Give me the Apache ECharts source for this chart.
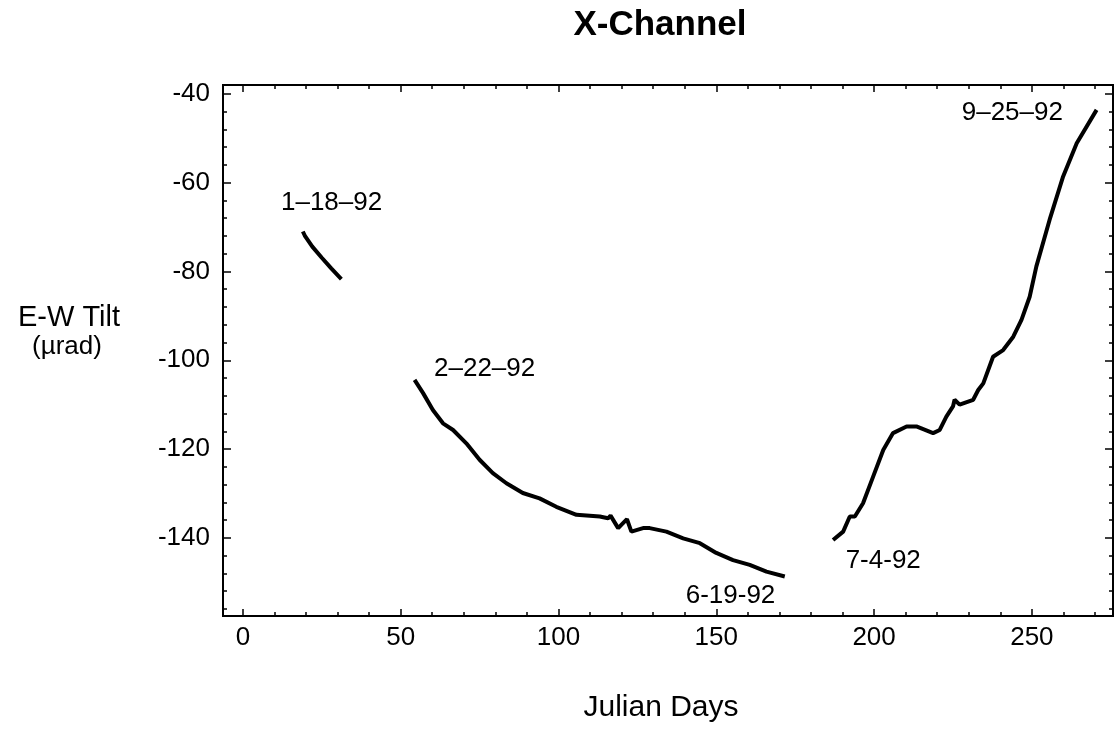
<!DOCTYPE html>
<html><head><meta charset="utf-8">
<script src="https://cdn.jsdelivr.net/npm/echarts@6/dist/echarts.min.js"></script>
<style>html,body{margin:0;padding:0;background:#fff}#c{width:1117px;height:731px}</style>
</head><body><div id="c"></div>
<script>
// ---- data (Julian day, E-W tilt in µrad) ----
const seg1 = [[19.0,-71.0],[19.6,-71.9],[22.0,-74.4],[25.0,-76.9],[28.0,-79.3],[31.2,-81.7]];
const seg2 = [[54.4,-104.4],[57.1,-107.4],[60.2,-111.2],[63.4,-114.2],[66.6,-115.7],[70.8,-118.7],
  [75.0,-122.4],[79.2,-125.4],[83.5,-127.7],[88.7,-129.9],[94.0,-131.1],[99.3,-133.0],[105.7,-134.8],
  [113.1,-135.2],[115.7,-135.6],[116.5,-135.0],[118.9,-137.8],[121.7,-135.8],[123.1,-138.6],
  [126.8,-137.8],[128.9,-137.8],[134.2,-138.6],[139.5,-140.1],[144.8,-141.2],[150.0,-143.4],
  [155.3,-145.0],[160.6,-146.1],[165.9,-147.6],[171.7,-148.7]];
const seg3 = [[187.0,-140.5],[190.2,-138.6],[192.3,-135.2],[193.9,-135.2],[196.5,-132.2],[199.7,-126.2],
  [202.9,-120.2],[206.0,-116.4],[210.3,-114.9],[213.4,-114.9],[218.7,-116.4],[220.8,-115.7],
  [222.9,-112.7],[225.0,-110.4],[225.5,-108.9],[227.1,-110.0],[231.4,-108.9],[233.0,-106.7],
  [234.6,-105.2],[237.7,-99.2],[240.9,-97.7],[244.1,-94.7],[246.7,-90.9],[249.3,-85.7],
  [251.4,-78.9],[255.6,-68.4],[259.9,-58.6],[264.2,-51.1],[270.5,-43.6]];
const annText = ['1\u201318\u201392','2\u201322\u201392','6-19-92','7-4-92','9\u201325\u201392'];
const annX = [28.1, 76.6, 154.5, 202.9, 243.8];
const annY = [-64.5, -101.9, -153.1, -145.2, -44.2];
const xMajorTicks = [0,50,100,150,200,250];
const xMinorTicks = [0,10,20,30,40,50,60,70,80,90,100,110,120,130,140,150,160,170,180,190,200,210,220,230,240,250,260,270];
const yMajorTicks = [-140,-120,-100,-80,-60,-40];
const yMinorTicks = [-156,-152,-148,-144,-140,-136,-132,-128,-124,-120,-116,-112,-108,-104,-100,-96,-92,-88,-84,-80,-76,-72,-68,-64,-60,-56,-52,-48,-44,-40];
const X_MIN = -6.3, X_MAX = 275.7, Y_MIN = -157.6, Y_MAX = -38.0;

const FONT = 'Liberation Sans';
function xAx(pos, ticks, len, withLabels) {
  return {type:'value', position:pos, min:X_MIN, max:X_MAX, splitLine:{show:false},
    axisLine:{show:false, onZero:false},
    axisTick:{show:true, inside:true, length:len, customValues:ticks, lineStyle:{color:'#000', width:1.5}},
    axisLabel: withLabels ? {show:true, customValues:xMajorTicks, margin:9, color:'#000', fontFamily:FONT, fontSize:26} : {show:false}};
}
function yAx(pos, ticks, len, withLabels) {
  return {type:'value', position:pos, min:Y_MIN, max:Y_MAX, splitLine:{show:false},
    axisLine:{show:false, onZero:false},
    axisTick:{show:true, inside:true, length:len, customValues:ticks, lineStyle:{color:'#000', width:1.5}},
    axisLabel: withLabels ? {show:true, customValues:yMajorTicks, margin:13, color:'#000', fontFamily:FONT, fontSize:26} : {show:false}};
}
const lineSeries = (d) => ({type:'line', data:d, xAxisIndex:0, yAxisIndex:0, showSymbol:false, symbol:'none',
  lineStyle:{color:'#000', width:4}, animation:false, z:3});

const chart = echarts.init(document.getElementById('c'), null, {renderer:'canvas'});
chart.setOption({
  animation:false,
  backgroundColor:'#fff',
  grid:{left:223, right:4, top:85, bottom:115, show:true, borderColor:'#000', borderWidth:2, backgroundColor:'transparent'},
  xAxis:[xAx('bottom', xMajorTicks, 7, true), xAx('bottom', xMinorTicks, 4, false), xAx('top', xMajorTicks, 7, false), xAx('top', xMinorTicks, 4, false)],
  yAxis:[yAx('left', yMajorTicks, 8, true), yAx('left', yMinorTicks, 4, false), yAx('right', yMajorTicks, 8, false), yAx('right', yMinorTicks, 4, false)],
  series:[lineSeries(seg1), lineSeries(seg2), lineSeries(seg3),
    {type:'scatter', xAxisIndex:0, yAxisIndex:0, symbolSize:0, silent:true, itemStyle:{opacity:1},
     data: annText.map((t,i)=>({name:t, value:[annX[i], annY[i]]})),
     label:{show:true, position:'inside', formatter:p=>p.name, color:'#000', opacity:1, fontFamily:FONT, fontSize:26}}],
  graphic:[
    {type:'text', x:660, y:25, style:{text:'X-Channel', font:'bold 35px "Liberation Sans"', fill:'#000', align:'center', verticalAlign:'middle'}},
    {type:'text', x:661, y:708, style:{text:'Julian Days', font:'30px "Liberation Sans"', fill:'#000', align:'center', verticalAlign:'middle'}},
    {type:'text', x:69, y:318, style:{text:'E-W Tilt', font:'29px "Liberation Sans"', fill:'#000', align:'center', verticalAlign:'middle'}},
    {type:'text', x:67, y:347, style:{text:'(\u00b5rad)', font:'26px "Liberation Sans"', fill:'#000', align:'center', verticalAlign:'middle'}}
  ]
});
</script></body></html>
